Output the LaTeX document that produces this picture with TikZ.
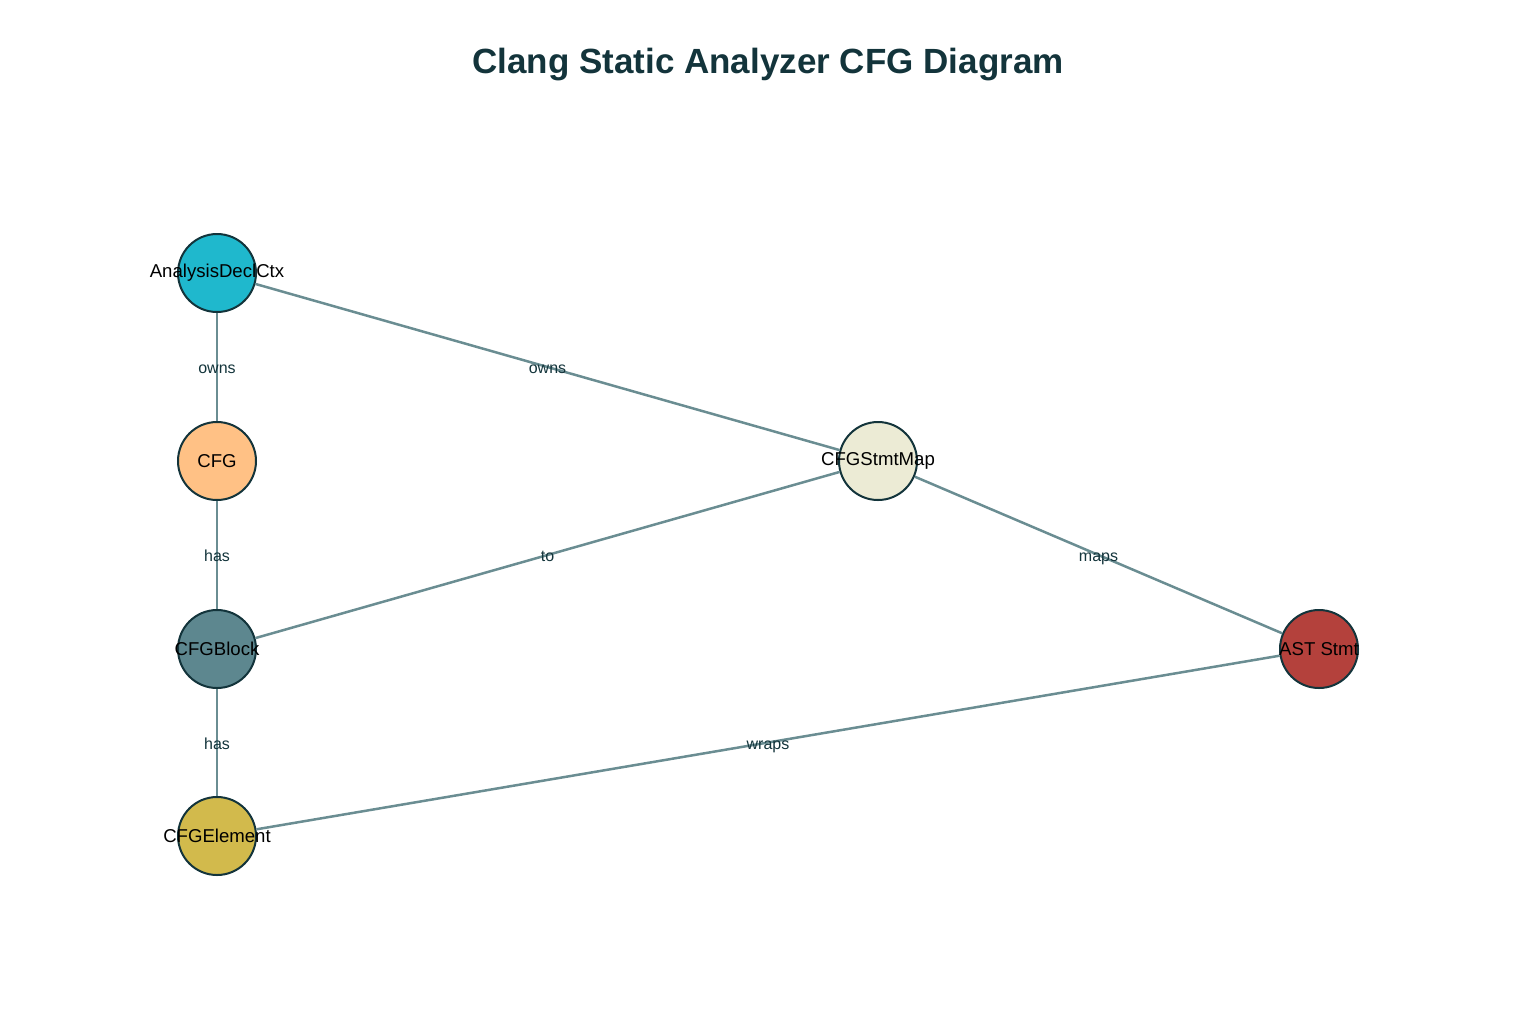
\documentclass[tikz,border=0pt]{standalone}
\usepackage{fontspec}
\setmainfont{Liberation Sans}
\usepackage{tikz}
\definecolor{mdark}{HTML}{13343B}
\definecolor{medge}{HTML}{6A8D92}
\definecolor{mcyan}{HTML}{1FB8CD}
\definecolor{morange}{HTML}{FFC185}
\definecolor{mslate}{HTML}{5D878F}
\definecolor{mgold}{HTML}{D2BA4C}
\definecolor{mcream}{HTML}{ECEBD5}
\definecolor{mred}{HTML}{B4413C}
\tikzset{circ/.style = {circle, draw = mdark, line width = 1pt, minimum size = 39pt, inner sep = 0}}
\tikzset{nodetext/.style = {font = \fontsize{9.3}{11}\selectfont, text = black}}
\tikzset{lbl/.style = {font = \fontsize{8}{10}\selectfont, text = mdark, text height = 1.5ex, text depth = 0.25ex}}
\tikzset{link/.style = {draw = medge, line width = 1.25pt}}

\begin{document}
\begin{tikzpicture}[x = 0.5pt, y = -0.5pt]
    \useasboundingbox (0, 0) rectangle (1536, 1024);
    \node [font = \fontsize{17.5}{21}\bfseries\selectfont, text = mdark] (title) at (768, 65) {Clang Static Analyzer CFG Diagram};

    \node [circ, fill = mcyan] (adc) at (217, 273) {};
    \node [circ, fill = morange] (cfg) at (217, 461) {};
    \node [circ, fill = mslate] (blk) at (217, 649) {};
    \node [circ, fill = mgold] (elm) at (217, 836) {};
    \node [circ, fill = mcream] (map) at (878, 461) {};
    \node [circ, fill = mred] (ast) at (1319, 649) {};

    \draw [link] (adc) -- (cfg) node [lbl, midway] {owns};
    \draw [link] (adc) -- (map) node [lbl, midway] {owns};
    \draw [link] (cfg) -- (blk) node [lbl, midway] {has};
    \draw [link] (blk) -- (map) node [lbl, midway] {to};
    \draw [link] (map) -- (ast) node [lbl, midway] {maps};
    \draw [link] (blk) -- (elm) node [lbl, midway] {has};
    \draw [link] (elm) -- (ast) node [lbl, midway] {wraps};

    \node [nodetext] at (adc) {AnalysisDeclCtx};
    \node [nodetext] at (cfg) {CFG};
    \node [nodetext] at (blk) {CFGBlock};
    \node [nodetext] at (elm) {CFGElement};
    \node [nodetext] at (map) {CFGStmtMap};
    \node [nodetext] at (ast) {AST Stmt};
  \end{tikzpicture}
\end{document}
